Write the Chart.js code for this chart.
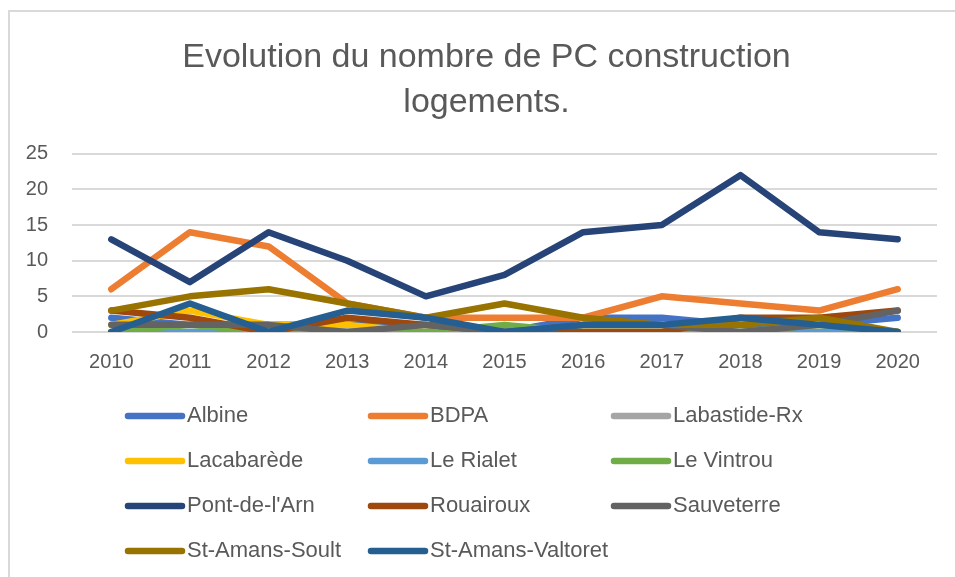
<!DOCTYPE html>
<html>
<head>
<meta charset="utf-8">
<script src="https://cdn.jsdelivr.net/npm/chart.js@4"></script>
<style>
  body { margin: 0; background: #fff; overflow: hidden; }
  #wrap {
    position: absolute; left: 8px; top: 10px;
    width: 962px; height: 600px;
    border-top: 2px solid #d9d9d9; border-left: 2px solid #d9d9d9;
  }
</style>
</head>
<body>
<div id="wrap"><canvas id="pcChart" width="960" height="565"></canvas></div>
<script>
// Data
const years = ["2010", "2011", "2012", "2013", "2014", "2015", "2016", "2017", "2018", "2019", "2020"];
const communes = ["Albine", "BDPA", "Labastide-Rx", "Lacabarède", "Le Rialet", "Le Vintrou",
  "Pont-de-l'Arn", "Rouairoux", "Sauveterre", "St-Amans-Soult", "St-Amans-Valtoret"];

const albine     = [2, 1, 1, 1, 1, 0, 2, 2, 1, 1, 2];
const bdpa       = [6, 14, 12, 4, 2, 2, 2, 5, 4, 3, 6];
const labastide  = [0, 0, 0, 0, 0, 0, 0, 0, 0, 0, 0];
const lacabarede = [1, 3, 1, 1, 0, 0, 0, 0, 0, 0, 0];
const rialet     = [0, 0, 0, 0, 0, 0, 0, 0, 0, 0, 0];
const vintrou    = [0, 1, 0, 0, 0, 1, 0, 0, 0, 1, 0];
const pontArn    = [13, 7, 14, 10, 5, 8, 14, 15, 22, 14, 13];
const rouairoux  = [3, 2, 0, 2, 1, 0, 0, 0, 2, 2, 3];
const sauveterre = [1, 1, 1, 0, 1, 0, 1, 1, 0, 1, 3];
const stAmansSoult    = [3, 5, 6, 4, 2, 4, 2, 1, 1, 2, 0];
const stAmansValtoret = [0, 4, 0, 3, 2, 0, 1, 1, 2, 1, 0];

const yTicks = [0, 5, 10, 15, 20, 25];

const seriesValues = [albine, bdpa, labastide, lacabarede, rialet, vintrou,
  pontArn, rouairoux, sauveterre, stAmansSoult, stAmansValtoret];
const colors = ["#4472C4", "#ED7D31", "#A5A5A5", "#FFC000", "#5B9BD5", "#70AD47",
  "#264478", "#9E480E", "#636363", "#997300", "#255E91"];

const FONT = "'Liberation Sans', Arial, sans-serif";
const TEXT = "#595959";

// Excel-like legend in a 3 column grid under the plot
const gridLegend = {
  id: "gridLegend",
  afterLayout(chart) {
    // the title sits centred on the whole chart frame, a bit right of the y axis
    if (chart.titleBlock) chart.titleBlock.left += 14;
  },
  afterDraw(chart) {
    const ctx = chart.ctx;
    ctx.save();
    chart.data.datasets.forEach((ds, i) => {
      const col = i % 3;
      const row = Math.floor(i / 3);
      const x = 118 + col * 243;
      const y = 404 + row * 45;
      ctx.strokeStyle = ds.borderColor;
      ctx.lineWidth = 6.5;
      ctx.lineCap = "round";
      ctx.beginPath();
      ctx.moveTo(x, y);
      ctx.lineTo(x + 54, y);
      ctx.stroke();
      ctx.fillStyle = TEXT;
      ctx.font = "22px " + FONT;
      ctx.textAlign = "left";
      ctx.textBaseline = "middle";
      ctx.fillText(ds.label, x + 59, y);
    });
    ctx.restore();
  }
};

const ctx = document.getElementById("pcChart").getContext("2d");
const pcChart = new Chart(ctx, {
  type: "line",
  data: {
    labels: years,
    datasets: communes.map((name, i) => ({
      label: name,
      data: seriesValues[i],
      borderColor: colors[i],
      backgroundColor: colors[i],
      borderWidth: 6.5,
      borderCapStyle: "round",
      borderJoinStyle: "round",
      pointRadius: 0,
      tension: 0,
      order: communes.length - i
    }))
  },
  options: {
    responsive: false,
    animation: false,
    layout: { padding: { left: 12, right: 33, top: 0, bottom: 193 } },
    plugins: {
      legend: { display: false },
      tooltip: { enabled: false },
      title: {
        display: true,
        text: ["Evolution du nombre de PC construction", "logements."],
        color: TEXT,
        font: { family: FONT, size: 34, weight: "normal", lineHeight: 1.32 },
        padding: { top: 23, bottom: 29 }
      }
    },
    scales: {
      x: {
        offset: true,
        grid: { display: false },
        border: { display: false },
        ticks: { color: TEXT, font: { family: FONT, size: 20 }, padding: 10, maxRotation: 0 }
      },
      y: {
        min: 0,
        max: 25,
        afterBuildTicks: (axis) => { axis.ticks = yTicks.map(v => ({ value: v })); },
        afterFit: (axis) => { axis.width = 50; },
        grid: { color: "#d9d9d9", lineWidth: 2, drawTicks: false },
        border: { display: false },
        ticks: { color: TEXT, font: { family: FONT, size: 20 }, padding: 24 }
      }
    }
  },
  plugins: [gridLegend]
});
</script>
</body>
</html>
